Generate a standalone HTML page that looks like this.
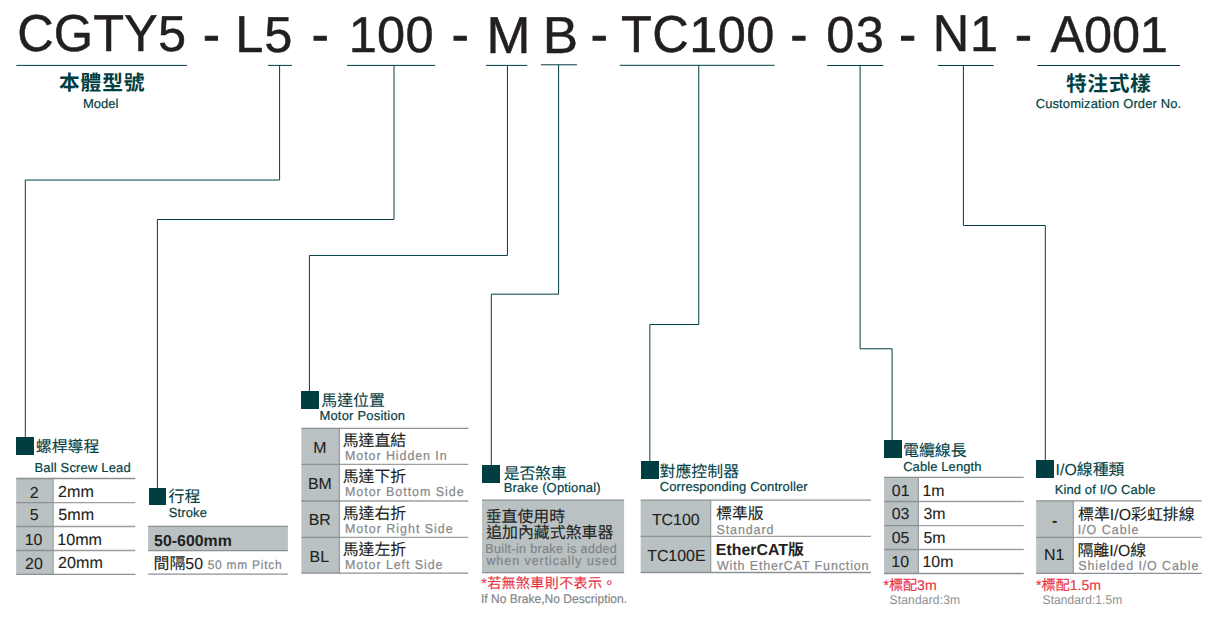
<!DOCTYPE html>
<html lang="zh-Hant">
<head>
<meta charset="utf-8">
<title>CGTY5 Model Code</title>
<style>
html,body{margin:0;padding:0;background:#fff;}
body{width:1213px;height:619px;overflow:hidden;position:relative;font-family:"Liberation Sans","Noto Sans CJK TC",sans-serif;}
svg{position:absolute;left:0;top:0;display:block;}
svg text{font-family:"Liberation Sans","Noto Sans CJK TC",sans-serif;white-space:pre;text-rendering:geometricPrecision;}
</style>
</head>
<body>
<svg width="1213" height="619" viewBox="0 0 1213 619">
<g fill="#231f20" stroke="#231f20" stroke-width="0.50" font-size="50.5"><text transform="translate(17.14 51.20) scale(1.0000 1.030)">C</text><text transform="translate(53.73 51.20) scale(1.0000 1.030)">G</text><text transform="translate(93.14 51.20) scale(1.0000 1.030)">T</text><text transform="translate(124.12 51.20) scale(1.0000 1.030)">Y</text><text transform="translate(157.93 51.20) scale(1.0000 1.000)">5</text></g>
<g fill="#231f20" stroke="#231f20" stroke-width="0.50" font-size="50.5"><text transform="translate(203.06 51.95) scale(1 1.030)" stroke-width="1">-</text></g>
<g fill="#231f20" stroke="#231f20" stroke-width="0.50" font-size="50.5"><text transform="translate(235.16 52.00) scale(1.0000 1.030)">L</text><text transform="translate(264.23 52.00) scale(1.0000 1.000)">5</text></g>
<g fill="#231f20" stroke="#231f20" stroke-width="0.50" font-size="50.5"><text transform="translate(311.86 51.95) scale(1 1.030)" stroke-width="1">-</text></g>
<g fill="#231f20" stroke="#231f20" stroke-width="0.50" font-size="50.5"><text transform="translate(348.70 52.00)">1</text><text transform="translate(377.09 52.00) scale(1.0000 1.000)">0</text><text transform="translate(405.49 52.00) scale(1.0000 1.000)">0</text></g>
<g fill="#231f20" stroke="#231f20" stroke-width="0.50" font-size="50.5"><text transform="translate(451.66 51.95) scale(1 1.030)" stroke-width="1">-</text></g>
<g fill="#231f20" stroke="#231f20" stroke-width="0.50" font-size="50.5"><text transform="translate(486.47 53.15) scale(1.0449 1.030)">M</text></g>
<g fill="#231f20" stroke="#231f20" stroke-width="0.50" font-size="50.5"><text transform="translate(542.65 53.15) scale(1.0492 1.030)">B</text></g>
<g fill="#231f20" stroke="#231f20" stroke-width="0.50" font-size="50.5"><text transform="translate(590.76 51.95) scale(1 1.030)" stroke-width="1">-</text></g>
<g fill="#231f20" stroke="#231f20" stroke-width="0.50" font-size="50.5"><text transform="translate(620.97 52.00) scale(1.0000 1.030)">T</text><text transform="translate(652.27 52.00) scale(1.0000 1.030)">C</text><text transform="translate(689.20 52.00)">1</text><text transform="translate(717.74 52.00) scale(1.0000 1.000)">0</text><text transform="translate(746.29 52.00) scale(1.0000 1.000)">0</text></g>
<g fill="#231f20" stroke="#231f20" stroke-width="0.50" font-size="50.5"><text transform="translate(790.56 51.95) scale(1 1.030)" stroke-width="1">-</text></g>
<g fill="#231f20" stroke="#231f20" stroke-width="0.50" font-size="50.5"><text transform="translate(826.23 51.60) scale(1.0000 1.000)">0</text><text transform="translate(855.83 51.60) scale(1.0000 1.000)">3</text></g>
<g fill="#231f20" stroke="#231f20" stroke-width="0.50" font-size="50.5"><text transform="translate(899.36 51.95) scale(1 1.030)" stroke-width="1">-</text></g>
<g fill="#231f20" stroke="#231f20" stroke-width="0.50" font-size="50.5"><text transform="translate(932.86 51.20) scale(1.0000 1.030)">N</text><text transform="translate(970.07 51.20)">1</text></g>
<g fill="#231f20" stroke="#231f20" stroke-width="0.50" font-size="50.5"><text transform="translate(1015.06 51.95) scale(1 1.030)" stroke-width="1">-</text></g>
<g fill="#231f20" stroke="#231f20" stroke-width="0.50" font-size="50.5"><text transform="translate(1050.60 51.90) scale(1.0000 1.030)">A</text><text transform="translate(1084.09 51.90) scale(1.0000 1.000)">0</text><text transform="translate(1111.98 51.90) scale(1.0000 1.000)">0</text><text transform="translate(1139.87 51.90)">1</text></g>
<path d="M16.40 65.40 L187.00 65.40" fill="none" stroke="#003e41" stroke-width="1.00"/>
<path d="M267.90 65.40 L292.00 65.40" fill="none" stroke="#003e41" stroke-width="1.00"/>
<path d="M346.90 65.40 L435.20 65.40" fill="none" stroke="#003e41" stroke-width="1.00"/>
<path d="M485.90 65.40 L527.20 65.40" fill="none" stroke="#003e41" stroke-width="1.00"/>
<path d="M541.00 64.80 L576.90 64.80" fill="none" stroke="#003e41" stroke-width="1.00"/>
<path d="M619.80 65.30 L774.50 65.30" fill="none" stroke="#003e41" stroke-width="1.00"/>
<path d="M827.20 65.50 L883.40 65.50" fill="none" stroke="#003e41" stroke-width="1.00"/>
<path d="M937.90 65.50 L993.70 65.50" fill="none" stroke="#003e41" stroke-width="1.00"/>
<path d="M1037.30 65.50 L1180.00 65.50" fill="none" stroke="#003e41" stroke-width="1.00"/>
<path d="M279.60 65.40 L279.60 180.05 L25.30 180.05 L25.30 437.50" fill="none" stroke="#003e41" stroke-width="1.00"/>
<path d="M394.00 65.40 L394.00 219.50 L157.40 219.50 L157.40 488.50" fill="none" stroke="#003e41" stroke-width="1.00"/>
<path d="M507.45 65.40 L507.45 255.45 L309.40 255.45 L309.40 391.50" fill="none" stroke="#003e41" stroke-width="1.00"/>
<path d="M558.60 64.80 L558.60 294.15 L491.30 294.15 L491.30 465.50" fill="none" stroke="#003e41" stroke-width="1.00"/>
<path d="M698.75 65.30 L698.75 324.55 L649.85 324.55 L649.85 461.50" fill="none" stroke="#003e41" stroke-width="1.00"/>
<path d="M860.10 65.50 L860.10 348.80 L892.10 348.80 L892.10 440.50" fill="none" stroke="#003e41" stroke-width="1.00"/>
<path d="M963.40 65.50 L963.40 225.50 L1045.30 225.50 L1045.30 460.50" fill="none" stroke="#003e41" stroke-width="1.00"/>
<g fill="#003e41" font-weight="bold"><text x="58.9" y="90.4" font-size="20.7" letter-spacing="0.95">本體型號</text></g>
<text x="82.93" y="108.40" font-size="13.00" fill="#054246" stroke="#054246" stroke-width="0.20">Model</text>
<g fill="#003e41" font-weight="bold"><text x="1065.9" y="91.1" font-size="20.8" letter-spacing="0.6">特注式樣</text></g>
<text x="1035.64" y="108.20" font-size="13.00" fill="#054246" letter-spacing="0.113" stroke="#054246" stroke-width="0.20">Customization Order No.</text>
<rect x="16.00" y="437.00" width="18.00" height="18.00" fill="#003e41"/>
<g fill="#054246" stroke="#054246" stroke-width="0.1"><text x="35.8" y="452.0" font-size="15.9">螺桿導程</text></g>
<text x="34.43" y="471.70" font-size="13.00" fill="#054246" letter-spacing="0.169" stroke="#054246" stroke-width="0.20">Ball Screw Lead</text>
<rect x="16.20" y="478.50" width="36.90" height="95.90" fill="#b9c1c3"/>
<path d="M53.10 478.50 L53.10 574.40" fill="none" stroke="#969da0" stroke-width="1.20"/>
<path d="M16.20 478.50 L135.30 478.50" fill="none" stroke="#8b9092" stroke-width="1.30"/>
<path d="M16.20 502.70 L53.70 502.70" fill="none" stroke="#8c9294" stroke-width="1.30"/>
<path d="M53.70 502.70 L135.30 502.70" fill="none" stroke="#9d9fa0" stroke-width="1.30"/>
<path d="M16.20 526.50 L53.70 526.50" fill="none" stroke="#8c9294" stroke-width="1.30"/>
<path d="M53.70 526.50 L135.30 526.50" fill="none" stroke="#9d9fa0" stroke-width="1.30"/>
<path d="M16.20 550.50 L53.70 550.50" fill="none" stroke="#8c9294" stroke-width="1.30"/>
<path d="M53.70 550.50 L135.30 550.50" fill="none" stroke="#9d9fa0" stroke-width="1.30"/>
<path d="M16.20 574.40 L135.30 574.40" fill="none" stroke="#8b9092" stroke-width="1.30"/>
<g fill="#231f20" stroke="#231f20" stroke-width="0.1"><text x="29.7" y="497.5" font-size="15.9">2</text></g>
<g fill="#231f20" stroke="#231f20" stroke-width="0.1"><text x="58.1" y="497.2" font-size="16.1">2mm</text></g>
<g fill="#231f20" stroke="#231f20" stroke-width="0.1"><text x="29.8" y="520.4" font-size="15.9">5</text></g>
<g fill="#231f20" stroke="#231f20" stroke-width="0.1"><text x="58.3" y="520.1" font-size="16.1">5mm</text></g>
<g fill="#231f20" stroke="#231f20" stroke-width="0.1"><text x="24.7" y="545.0" font-size="15.9">10</text></g>
<g fill="#231f20" stroke="#231f20" stroke-width="0.1"><text x="57.3" y="544.7" font-size="16.1">10mm</text></g>
<g fill="#231f20" stroke="#231f20" stroke-width="0.1"><text x="25.1" y="568.5" font-size="15.9">20</text></g>
<g fill="#231f20" stroke="#231f20" stroke-width="0.1"><text x="58.1" y="568.2" font-size="16.1">20mm</text></g>
<rect x="149.00" y="488.00" width="17.00" height="17.00" fill="#003e41"/>
<g fill="#054246" stroke="#054246" stroke-width="0.1"><text x="168.5" y="502.1" font-size="15.9">行程</text></g>
<text x="168.81" y="516.80" font-size="13.00" fill="#054246" letter-spacing="0.099" stroke="#054246" stroke-width="0.20">Stroke</text>
<rect x="148.10" y="526.40" width="139.80" height="24.20" fill="#b9c1c3"/>
<path d="M148.10 526.40 L287.90 526.40" fill="none" stroke="#8b9092" stroke-width="1.30"/>
<path d="M148.10 550.60 L287.90 550.60" fill="none" stroke="#8b9092" stroke-width="1.30"/>
<path d="M148.10 574.20 L287.90 574.20" fill="none" stroke="#8b9092" stroke-width="1.30"/>
<g fill="#231f20" font-weight="bold"><text x="154.1" y="545.6" font-size="15.9">50-600mm</text></g>
<g fill="#231f20" stroke="#231f20" stroke-width="0.1"><text x="153.6" y="569.2" font-size="15.9">間隔50</text></g>
<text x="207.72" y="546.73" font-size="12.00" fill="#87888b" letter-spacing="0.727" stroke="#87888b" stroke-width="0.20" transform="scale(1 1.0400)">50 mm Pitch</text>
<rect x="301.00" y="391.00" width="18.00" height="18.00" fill="#003e41"/>
<g fill="#054246" stroke="#054246" stroke-width="0.1"><text x="321.3" y="406.0" font-size="15.9">馬達位置</text></g>
<text x="319.43" y="419.90" font-size="13.00" fill="#054246" letter-spacing="0.194" stroke="#054246" stroke-width="0.20">Motor Position</text>
<rect x="301.40" y="428.30" width="38.00" height="144.90" fill="#b9c1c3"/>
<path d="M339.40 428.30 L339.40 573.20" fill="none" stroke="#969da0" stroke-width="1.20"/>
<path d="M301.40 428.30 L468.30 428.30" fill="none" stroke="#8b9092" stroke-width="1.30"/>
<path d="M301.40 464.40 L340.00 464.40" fill="none" stroke="#8c9294" stroke-width="1.30"/>
<path d="M340.00 464.40 L468.30 464.40" fill="none" stroke="#9d9fa0" stroke-width="1.30"/>
<path d="M301.40 501.00 L340.00 501.00" fill="none" stroke="#8c9294" stroke-width="1.30"/>
<path d="M340.00 501.00 L468.30 501.00" fill="none" stroke="#9d9fa0" stroke-width="1.30"/>
<path d="M301.40 537.40 L340.00 537.40" fill="none" stroke="#8c9294" stroke-width="1.30"/>
<path d="M340.00 537.40 L468.30 537.40" fill="none" stroke="#9d9fa0" stroke-width="1.30"/>
<path d="M301.40 573.20 L468.30 573.20" fill="none" stroke="#8b9092" stroke-width="1.30"/>
<g fill="#231f20" stroke="#231f20" stroke-width="0.1"><text x="313.2" y="452.6" font-size="15.9">M</text></g>
<g fill="#231f20" stroke="#231f20" stroke-width="0.1"><text x="342.7" y="445.9" font-size="15.9">馬達直結</text></g>
<text x="344.97" y="440.29" font-size="12.50" fill="#87888b" letter-spacing="0.914" stroke="#87888b" stroke-width="0.20" transform="scale(1 1.0450)">Motor Hidden In</text>
<g fill="#231f20" stroke="#231f20" stroke-width="0.1"><text x="307.9" y="488.7" font-size="15.9">BM</text></g>
<g fill="#231f20" stroke="#231f20" stroke-width="0.1"><text x="342.7" y="482.0" font-size="15.9">馬達下折</text></g>
<text x="344.97" y="474.83" font-size="12.50" fill="#87888b" letter-spacing="0.948" stroke="#87888b" stroke-width="0.20" transform="scale(1 1.0450)">Motor Bottom Side</text>
<g fill="#231f20" stroke="#231f20" stroke-width="0.1"><text x="308.7" y="525.3" font-size="15.9">BR</text></g>
<g fill="#231f20" stroke="#231f20" stroke-width="0.1"><text x="342.7" y="518.6" font-size="15.9">馬達右折</text></g>
<text x="344.97" y="509.86" font-size="12.50" fill="#87888b" letter-spacing="0.979" stroke="#87888b" stroke-width="0.20" transform="scale(1 1.0450)">Motor Right Side</text>
<g fill="#231f20" stroke="#231f20" stroke-width="0.1"><text x="309.6" y="561.7" font-size="15.9">BL</text></g>
<g fill="#231f20" stroke="#231f20" stroke-width="0.1"><text x="342.7" y="555.0" font-size="15.9">馬達左折</text></g>
<text x="344.97" y="544.69" font-size="12.50" fill="#87888b" letter-spacing="0.915" stroke="#87888b" stroke-width="0.20" transform="scale(1 1.0450)">Motor Left Side</text>
<rect x="482.00" y="465.00" width="18.00" height="18.00" fill="#003e41"/>
<g fill="#054246" stroke="#054246" stroke-width="0.1"><text x="503.7" y="479.3" font-size="15.9" letter-spacing="-0.2">是否煞車</text></g>
<text x="503.63" y="492.00" font-size="13.00" fill="#054246" letter-spacing="0.155" stroke="#054246" stroke-width="0.20">Brake (Optional)</text>
<rect x="482.00" y="500.20" width="142.10" height="72.40" fill="#b9c1c3"/>
<path d="M482.00 500.20 L624.10 500.20" fill="none" stroke="#8b9092" stroke-width="1.30"/>
<path d="M482.00 572.60 L624.10 572.60" fill="none" stroke="#8b9092" stroke-width="1.30"/>
<g fill="#231f20" stroke="#231f20" stroke-width="0.1"><text x="485.7" y="521.6" font-size="15.9">垂直使用時</text></g>
<g fill="#231f20" stroke="#231f20" stroke-width="0.1"><text x="486.2" y="537.6" font-size="15.9">追加內藏式煞車器</text></g>
<text x="485.37" y="529.19" font-size="12.50" fill="#7f8587" letter-spacing="0.352" stroke="#7f8587" stroke-width="0.20" transform="scale(1 1.0450)">Built-in brake is added</text>
<text x="486.42" y="540.67" font-size="12.50" fill="#7f8587" letter-spacing="0.939" stroke="#7f8587" stroke-width="0.20" transform="scale(1 1.0450)">when vertically used</text>
<g fill="#e83345" stroke="#e83345" stroke-width="0.15"><text x="481.3" y="588.2" font-size="14.0" letter-spacing="0.4">*若無煞車則不表示。</text></g>
<text x="480.89" y="574.29" font-size="12.00" fill="#87888b" letter-spacing="0.031" stroke="#87888b" stroke-width="0.20" transform="scale(1 1.0500)">If No Brake,No Description.</text>
<rect x="641.00" y="461.00" width="18.00" height="18.00" fill="#003e41"/>
<g fill="#054246" stroke="#054246" stroke-width="0.1"><text x="659.6" y="477.0" font-size="15.9">對應控制器</text></g>
<text x="659.64" y="490.70" font-size="13.00" fill="#054246" letter-spacing="0.119" stroke="#054246" stroke-width="0.20">Corresponding Controller</text>
<rect x="640.70" y="500.20" width="70.00" height="72.30" fill="#b9c1c3"/>
<path d="M710.70 500.20 L710.70 572.50" fill="none" stroke="#969da0" stroke-width="1.20"/>
<path d="M640.70 500.20 L870.90 500.20" fill="none" stroke="#8b9092" stroke-width="1.30"/>
<path d="M640.70 536.30 L711.30 536.30" fill="none" stroke="#8c9294" stroke-width="1.30"/>
<path d="M711.30 536.30 L870.90 536.30" fill="none" stroke="#9d9fa0" stroke-width="1.30"/>
<path d="M640.70 572.50 L870.90 572.50" fill="none" stroke="#8b9092" stroke-width="1.30"/>
<g fill="#231f20" stroke="#231f20" stroke-width="0.1"><text x="651.9" y="524.9" font-size="15.9">TC100</text></g>
<g fill="#231f20" stroke="#231f20" stroke-width="0.1"><text x="716.1" y="518.8" font-size="15.9">標準版</text></g>
<text x="716.43" y="510.72" font-size="12.50" fill="#87888b" letter-spacing="0.906" stroke="#87888b" stroke-width="0.20" transform="scale(1 1.0450)">Standard</text>
<g fill="#231f20" stroke="#231f20" stroke-width="0.1"><text x="647.2" y="561.0" font-size="15.9">TC100E</text></g>
<g fill="#231f20" font-weight="bold"><text x="715.8" y="554.8" font-size="15.9">EtherCAT版</text></g>
<text x="716.95" y="545.17" font-size="12.50" fill="#87888b" letter-spacing="0.857" stroke="#87888b" stroke-width="0.20" transform="scale(1 1.0450)">With EtherCAT Function</text>
<rect x="884.00" y="440.00" width="18.00" height="18.00" fill="#003e41"/>
<g fill="#054246" stroke="#054246" stroke-width="0.1"><text x="903.1" y="456.1" font-size="15.9">電纜線長</text></g>
<text x="903.14" y="471.30" font-size="13.00" fill="#054246" letter-spacing="0.097" stroke="#054246" stroke-width="0.20">Cable Length</text>
<rect x="884.10" y="477.40" width="34.30" height="96.10" fill="#b9c1c3"/>
<path d="M918.40 477.40 L918.40 573.50" fill="none" stroke="#969da0" stroke-width="1.20"/>
<path d="M884.10 477.40 L1023.70 477.40" fill="none" stroke="#8b9092" stroke-width="1.30"/>
<path d="M884.10 501.50 L919.00 501.50" fill="none" stroke="#8c9294" stroke-width="1.30"/>
<path d="M919.00 501.50 L1023.70 501.50" fill="none" stroke="#9d9fa0" stroke-width="1.30"/>
<path d="M884.10 525.60 L919.00 525.60" fill="none" stroke="#8c9294" stroke-width="1.30"/>
<path d="M919.00 525.60 L1023.70 525.60" fill="none" stroke="#9d9fa0" stroke-width="1.30"/>
<path d="M884.10 549.50 L919.00 549.50" fill="none" stroke="#8c9294" stroke-width="1.30"/>
<path d="M919.00 549.50 L1023.70 549.50" fill="none" stroke="#9d9fa0" stroke-width="1.30"/>
<path d="M884.10 573.50 L1023.70 573.50" fill="none" stroke="#8b9092" stroke-width="1.30"/>
<g fill="#231f20" stroke="#231f20" stroke-width="0.1"><text x="891.8" y="495.8" font-size="15.9">01</text></g>
<g fill="#231f20" stroke="#231f20" stroke-width="0.1"><text x="922.5" y="495.8" font-size="15.9">1m</text></g>
<g fill="#231f20" stroke="#231f20" stroke-width="0.1"><text x="891.7" y="519.4" font-size="15.9">03</text></g>
<g fill="#231f20" stroke="#231f20" stroke-width="0.1"><text x="923.5" y="519.4" font-size="15.9">3m</text></g>
<g fill="#231f20" stroke="#231f20" stroke-width="0.1"><text x="891.7" y="543.0" font-size="15.9">05</text></g>
<g fill="#231f20" stroke="#231f20" stroke-width="0.1"><text x="923.5" y="543.0" font-size="15.9">5m</text></g>
<g fill="#231f20" stroke="#231f20" stroke-width="0.1"><text x="891.3" y="566.9" font-size="15.9">10</text></g>
<g fill="#231f20" stroke="#231f20" stroke-width="0.1"><text x="922.5" y="566.9" font-size="15.9">10m</text></g>
<g fill="#e83345" stroke="#e83345" stroke-width="0.15"><text x="883.4" y="590.3" font-size="14.1">*標配3m</text></g>
<text x="889.46" y="575.24" font-size="12.00" fill="#8e8f90" letter-spacing="0.193" transform="scale(1 1.0500)">Standard:3m</text>
<rect x="1036.00" y="460.00" width="18.00" height="18.00" fill="#003e41"/>
<g fill="#054246" stroke="#054246" stroke-width="0.1"><text x="1055.6" y="475.3" font-size="15.9">I/O線種類</text></g>
<text x="1054.63" y="493.50" font-size="13.00" fill="#054246" letter-spacing="0.115" stroke="#054246" stroke-width="0.20">Kind of I/O Cable</text>
<rect x="1036.20" y="500.90" width="37.10" height="72.40" fill="#b9c1c3"/>
<path d="M1073.30 500.90 L1073.30 573.30" fill="none" stroke="#969da0" stroke-width="1.20"/>
<path d="M1036.20 500.90 L1201.80 500.90" fill="none" stroke="#8b9092" stroke-width="1.30"/>
<path d="M1036.20 537.30 L1073.90 537.30" fill="none" stroke="#8c9294" stroke-width="1.30"/>
<path d="M1073.90 537.30 L1201.80 537.30" fill="none" stroke="#9d9fa0" stroke-width="1.30"/>
<path d="M1036.20 573.30 L1201.80 573.30" fill="none" stroke="#8b9092" stroke-width="1.30"/>
<g fill="#231f20" font-weight="bold"><text x="1051.9" y="525.9" font-size="15.9">-</text></g>
<g fill="#231f20" stroke="#231f20" stroke-width="0.1"><text x="1078.1" y="519.5" font-size="15.9">標準I/O彩虹排線</text></g>
<text x="1077.65" y="510.86" font-size="12.50" fill="#87888b" letter-spacing="0.988" stroke="#87888b" stroke-width="0.20" transform="scale(1 1.0450)">I/O Cable</text>
<g fill="#231f20" stroke="#231f20" stroke-width="0.1"><text x="1044.1" y="560.4" font-size="15.9">N1</text></g>
<g fill="#231f20" stroke="#231f20" stroke-width="0.1"><text x="1077.4" y="555.9" font-size="15.9">隔離I/O線</text></g>
<text x="1078.23" y="545.69" font-size="12.50" fill="#87888b" letter-spacing="0.894" stroke="#87888b" stroke-width="0.20" transform="scale(1 1.0450)">Shielded I/O Cable</text>
<g fill="#e83345" stroke="#e83345" stroke-width="0.15"><text x="1036.1" y="590.0" font-size="14.1">*標配1.5m</text></g>
<text x="1042.56" y="575.14" font-size="12.00" fill="#8e8f90" letter-spacing="0.085" transform="scale(1 1.0500)">Standard:1.5m</text>
</svg>
</body>
</html>
